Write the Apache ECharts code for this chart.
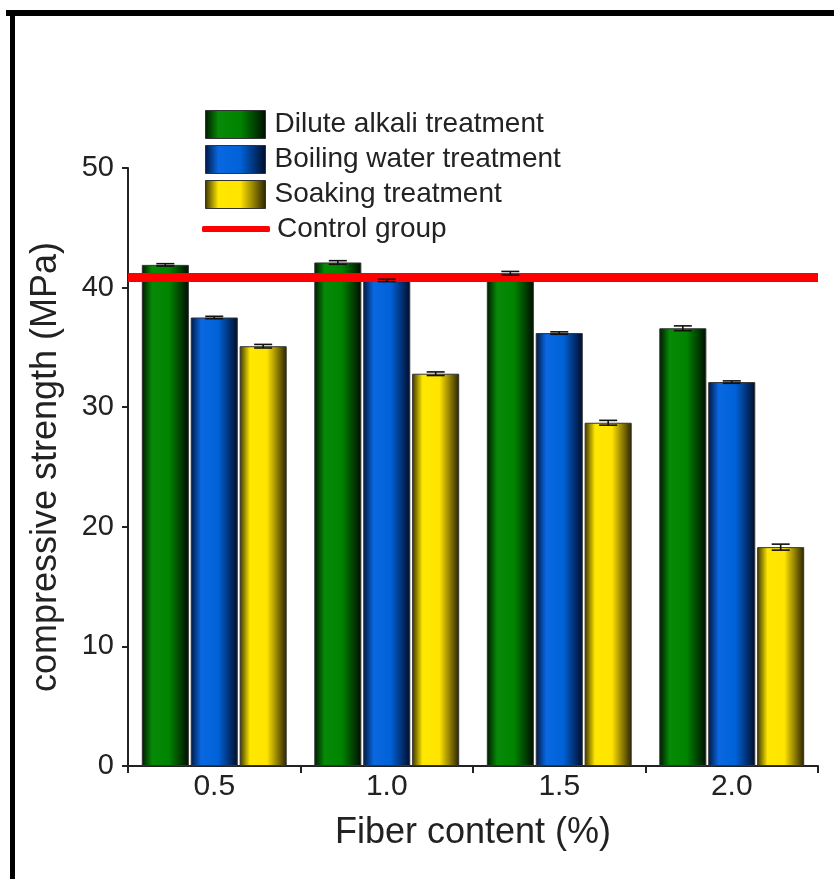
<!DOCTYPE html>
<html><head><meta charset="utf-8">
<script src="https://cdn.jsdelivr.net/npm/echarts@6/dist/echarts.min.js"></script>
<style>html,body{margin:0;padding:0;background:#fff}#c{width:834px;height:879px}</style>
</head><body><div id="c"></div><script>
const categories = ['0.5', '1.0', '1.5', '2.0'];
const diluteAlkali = [41.9, 42.1, 41.2, 36.6];
const boilingWater = [37.5, 40.6, 36.2, 32.1];
const soaking = [35.1, 32.8, 28.7, 18.3];
const diluteErr = [0.1, 0.15, 0.15, 0.2];
const boilingErr = [0.1, 0.1, 0.1, 0.1];
const soakingErr = [0.15, 0.15, 0.2, 0.25];
const controlGroup = 40.9;
const yTicks = {min: 0, max: 50, interval: 10};

function grad(edgeL, mid1, mid2, edgeR) {
  return new echarts.graphic.LinearGradient(0, 0, 1, 0, [
    {offset: 0, color: edgeL}, {offset: 0.22, color: mid1},
    {offset: 0.58, color: mid2}, {offset: 1, color: edgeR}
  ]);
}
const greenG = grad('#001800', '#078a07', '#008400', '#000e00');
const blueG = grad('#001640', '#0a68e0', '#0062d8', '#000c2a');
const yellowG = grad('#3a3200', '#ffe800', '#ffe400', '#2a2200');

const CAT_GAP = 0.16, BAR_GAP = 0.04;
const errData = [];
[[diluteAlkali, diluteErr], [boilingWater, boilingErr], [soaking, soakingErr]].forEach((p, si) => {
  p[0].forEach((v, ci) => errData.push([ci, v, p[1][ci], si]));
});

const chart = echarts.init(document.getElementById('c'));
const txt = '#222';
const FF = '"Liberation Sans", Arial, sans-serif';
chart.setOption({
  animation: false,
  backgroundColor: '#fff',
  grid: {left: 128, right: 16, top: 168, bottom: 113},
  legend: [{
    orient: 'vertical', left: 205, top: 110, padding: 0,
    itemWidth: 60, itemHeight: 28, itemGap: 6, selectedMode: false,
    textStyle: {fontSize: 28, color: txt, fontFamily: FF, padding: [0, 0, 0, 4]},
    itemStyle: {borderColor: '#333', borderWidth: 1},
    data: [
      {name: 'Dilute alkali treatment', icon: 'rect'},
      {name: 'Boiling water treatment', icon: 'rect'},
      {name: 'Soaking treatment', icon: 'rect'}
    ]
  }, {
    orient: 'vertical', left: 202, top: 215, padding: 0,
    itemWidth: 68, itemHeight: 6, selectedMode: false,
    textStyle: {fontSize: 28, color: txt, fontFamily: FF, padding: [0, 0, 0, 2]},
    data: [{name: 'Control group', icon: 'roundRect'}]
  }],
  xAxis: {
    type: 'category', data: categories,
    name: 'Fiber content (%)', nameLocation: 'middle', nameGap: 49,
    nameTextStyle: {fontSize: 36, color: txt, fontFamily: FF},
    axisLine: {lineStyle: {color: '#222', width: 2}},
    axisTick: {show: true, length: 7, lineStyle: {color: '#222', width: 2}},
    axisLabel: {fontSize: 30, color: txt, margin: 6, fontFamily: FF}
  },
  yAxis: {
    type: 'value', min: yTicks.min, max: yTicks.max, interval: yTicks.interval,
    name: 'compressive strength (MPa)', nameLocation: 'middle', nameGap: 64, nameRotate: 90,
    nameTextStyle: {fontSize: 36, color: txt, fontFamily: FF},
    axisLine: {show: true, lineStyle: {color: '#222', width: 2}},
    axisTick: {show: true, length: 6, lineStyle: {color: '#222', width: 2}},
    axisLabel: {fontSize: 29, color: txt, margin: 14, fontFamily: FF},
    splitLine: {show: false}
  },
  graphic: [
    {type: 'rect', left: 6, top: 10, shape: {width: 834, height: 6}, style: {fill: '#000'}, z: 100},
    {type: 'rect', left: 10, top: 10, shape: {width: 5, height: 869}, style: {fill: '#000'}, z: 100}
  ],
  series: [
    {name: 'Dilute alkali treatment', type: 'bar', data: diluteAlkali,
      barCategoryGap: (CAT_GAP * 100) + '%', barGap: (BAR_GAP * 100) + '%',
      itemStyle: {color: greenG, borderColor: '#333', borderWidth: 1}},
    {name: 'Boiling water treatment', type: 'bar', data: boilingWater,
      itemStyle: {color: blueG, borderColor: '#333', borderWidth: 1}},
    {name: 'Soaking treatment', type: 'bar', data: soaking,
      itemStyle: {color: yellowG, borderColor: '#333', borderWidth: 1}},
    {type: 'custom', name: 'err', data: errData, z: 5, silent: true,
      encode: {x: 0, y: 1},
      renderItem: function (params, api) {
        const ci = api.value(0), v = api.value(1), e = api.value(2), si = api.value(3);
        const band = api.size([1, 0])[0];
        const area = band * (1 - CAT_GAP);
        const w = area / (3 + 2 * BAR_GAP);
        const cx = api.coord([ci, v])[0] - area / 2 + w / 2 + si * w * (1 + BAR_GAP);
        const top = api.coord([ci, v + e])[1], bot = api.coord([ci, v - e])[1];
        const h = 9;
        const st = {stroke: '#111', lineWidth: 1.6};
        return {type: 'group', children: [
          {type: 'line', shape: {x1: cx, y1: top, x2: cx, y2: bot}, style: st},
          {type: 'line', shape: {x1: cx - h, y1: top, x2: cx + h, y2: top}, style: st},
          {type: 'line', shape: {x1: cx - h, y1: bot, x2: cx + h, y2: bot}, style: st}
        ]};
      }},
    {name: 'Control group', type: 'line', data: [], symbol: 'none', z: 10,
      itemStyle: {color: '#ff0000'}, lineStyle: {color: '#ff0000', width: 9},
      markLine: {silent: true, symbol: ['none', 'none'], label: {show: false},
        lineStyle: {color: '#ff0000', width: 9, type: 'solid'},
        emphasis: {disabled: true},
        data: [{yAxis: controlGroup}]}}
  ]
});
</script></body></html>
